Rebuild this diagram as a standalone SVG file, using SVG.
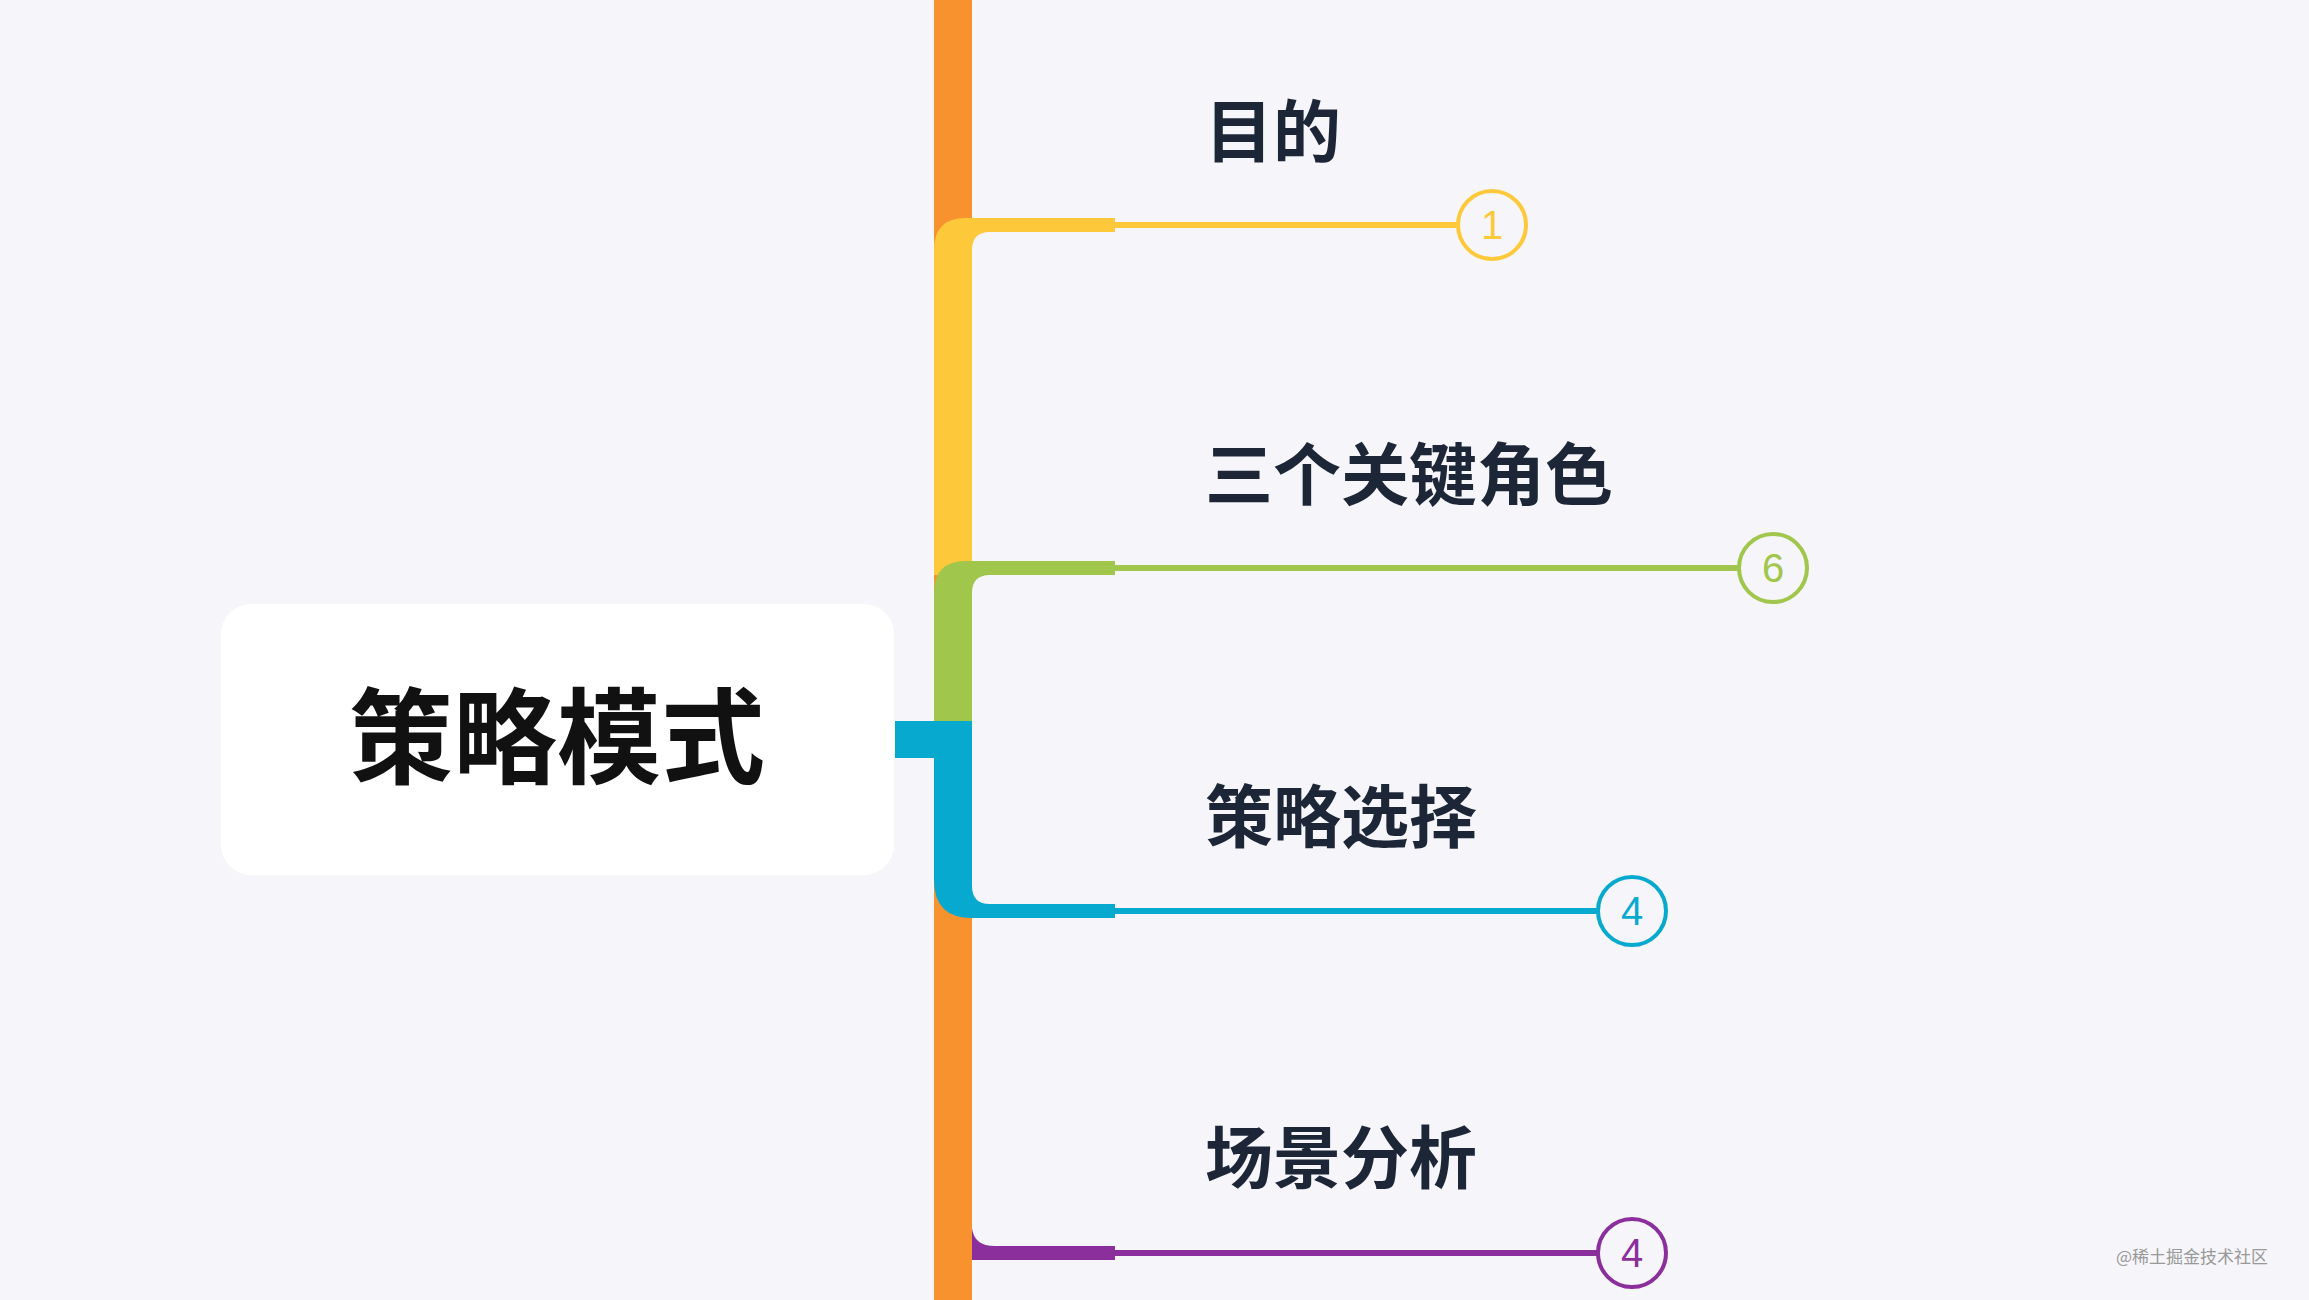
<svg xmlns="http://www.w3.org/2000/svg" width="2309" height="1300" viewBox="0 0 2309 1300">
<style>
.t{font-family:"Noto Sans CJK SC",sans-serif;font-weight:700;fill:#1c2637;font-size:68px}
.c{fill:none;stroke-width:4}
.n{font-family:"Liberation Sans",sans-serif;font-size:40px;text-anchor:middle}
</style>
<rect width="2309" height="1300" fill="#f5f5fa"/>
<g id="connectors">
<rect x="934" y="0" width="38" height="1300" fill="#f7922f"/>
<path d="M934 575V250Q934 218 966 218H1115V232H990Q972 232 972 250V575Z" fill="#fdc93a"/>
<line x1="1110" y1="225" x2="1457" y2="225" stroke="#fdc93a" stroke-width="6"/>
<path d="M934 721V593Q934 561 966 561H1115V575H990Q972 575 972 593V721Z" fill="#a0c64b"/>
<line x1="1110" y1="568" x2="1738" y2="568" stroke="#a0c64b" stroke-width="6"/>
<path d="M934 721V880Q934 918 972 918H1115V904H990Q972 904 972 886V721Z" fill="#07a9cf"/>
<rect x="895" y="721" width="77" height="37" fill="#07a9cf"/>
<line x1="1110" y1="911" x2="1597" y2="911" stroke="#07a9cf" stroke-width="6"/>
<path d="M972 1228Q974 1246 995 1246H1115V1260H972Z" fill="#8a2f9b"/>
<line x1="1110" y1="1253" x2="1597" y2="1253" stroke="#8a2f9b" stroke-width="6"/>
</g>
<g id="root">
<rect x="221" y="604" width="673" height="271" rx="30" fill="#fff"/>
<text x="557" y="776" font-family="Noto Sans CJK SC,sans-serif" font-weight="700" font-size="104" text-anchor="middle" fill="#111">策略模式</text>
</g>
<g id="n1"><text class="t" x="1205" y="157">目的</text>
<circle class="c" cx="1492" cy="225" r="34" stroke="#fdc93a"/><text class="n" x="1492" y="239" fill="#fdc93a">1</text></g>
<g id="n2"><text class="t" x="1205" y="500">三个关键角色</text>
<circle class="c" cx="1773" cy="568" r="34" stroke="#a0c64b"/><text class="n" x="1773" y="582" fill="#a0c64b">6</text></g>
<g id="n3"><text class="t" x="1205" y="842">策略选择</text>
<circle class="c" cx="1632" cy="911" r="34" stroke="#07a9cf"/><text class="n" x="1632" y="925" fill="#07a9cf">4</text></g>
<g id="n4"><text class="t" x="1205" y="1183">场景分析</text>
<circle class="c" cx="1632" cy="1253" r="34" stroke="#8a2f9b"/><text class="n" x="1632" y="1267" fill="#8a2f9b">4</text></g>
<text x="2116" y="1263" font-family="Noto Sans CJK SC,sans-serif" font-size="17" fill="#999">@稀土掘金技术社区</text>
</svg>
